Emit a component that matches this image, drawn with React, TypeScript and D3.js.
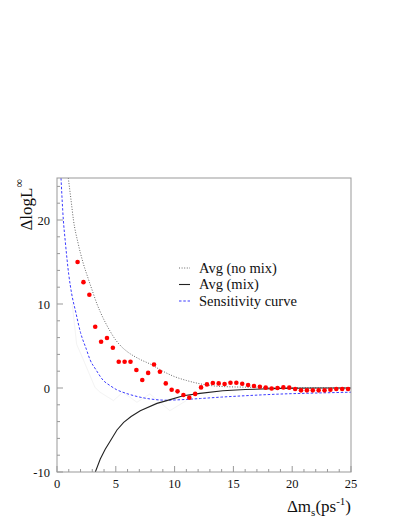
import React from "react";
import * as d3 from "d3";

const dotX = [1.75, 2.25, 2.75, 3.25, 3.75, 4.25, 4.75, 5.25, 5.75, 6.25, 6.75, 7.25, 7.75, 8.25, 8.75, 9.25, 9.75, 10.25, 10.75, 11.25, 11.75, 12.25, 12.75, 13.25, 13.75, 14.25, 14.75, 15.25, 15.75, 16.25, 16.75, 17.25, 17.75, 18.25, 18.75, 19.25, 19.75, 20.25, 20.75, 21.25, 21.75, 22.25, 22.75, 23.25, 23.75, 24.25, 24.75];
const dotY = [15.0, 12.6, 11.1, 7.3, 5.5, 5.95, 4.8, 3.13, 3.13, 3.13, 2.14, 0.95, 1.8, 2.8, 1.94, 0.55, -0.2, -0.4, -0.83, -1.15, -0.7, 0.07, 0.43, 0.6, 0.55, 0.47, 0.63, 0.63, 0.51, 0.35, 0.24, 0.15, 0.04, -0.06, 0, 0.07, 0.04, -0.12, -0.28, -0.28, -0.28, -0.28, -0.28, -0.2, -0.12, -0.12, -0.12];

const noMixX = [0.96, 1.2, 1.4, 1.8, 2.2, 2.66, 3.0, 3.4, 3.7, 4.5, 5.0, 5.5, 6.0, 7.0, 8.0, 9.0, 10.0, 11.0, 12.0, 13.0, 14.0, 16.0, 18.0, 20.0, 25.0];
const noMixY = [25, 22.3, 20, 17.2, 15.0, 13.0, 11.6, 10.0, 9.0, 6.8, 5.7, 4.9, 4.3, 3.45, 2.8, 2.0, 1.35, 0.9, 0.55, 0.3, 0.18, 0.1, 0.06, 0.03, 0];

const mixX = [3.26, 3.68, 4.1, 4.53, 5.1, 5.67, 6.3, 7.08, 8.5, 9.33, 10.74, 12.16, 14.1, 16, 19, 22, 25];
const mixY = [-10, -8.45, -7.3, -6.3, -5.0, -4.1, -3.4, -2.7, -1.83, -1.5, -0.92, -0.64, -0.32, -0.18, -0.05, 0, 0];

const sensX = [0.34, 0.54, 0.7, 1.0, 1.25, 1.6, 2.0, 2.5, 2.8, 3.3, 3.94, 4.5, 5.07, 5.8, 6.5, 7.9, 9.3, 10.7, 12.2, 14, 16, 19, 22, 25];
const sensY = [25, 20, 17.5, 13.5, 11.2, 9.0, 6.6, 4.6, 3.4, 2.2, 0.9, 0.3, -0.2, -0.6, -0.9, -1.3, -1.45, -1.38, -1.25, -1.08, -0.92, -0.72, -0.6, -0.5];

const faintX = [1.3, 1.67, 2.2, 3.23, 3.66, 4.8, 5.6, 6.8, 7.9, 9.6, 11];
const faintY = [10, 5.2, 3.5, 0.07, -0.5, -1.5, -0.5, -1.7, -0.7, -2.7, -1.5];

const xTicks = [0, 5, 10, 15, 20, 25];
const yTicks = [-10, 0, 10, 20];
const legendLabels = ["Avg (no mix)", "Avg (mix)", "Sensitivity curve"];

const W = 409;
const H = 529;
const left = 57, right = 351, top = 178, bottom = 472;
const FONT = '"Liberation Serif", "DejaVu Serif", serif';

export default function App() {
  const x = d3.scaleLinear().domain([0, 25]).range([left, right]);
  const y = d3.scaleLinear().domain([-10, 25]).range([bottom, top]);

  const mk = (xs: number[], ys: number[], curve: any) =>
    d3.line<number>().x((_, i) => x(xs[i])).y((_, i) => y(ys[i])).curve(curve)(xs.map((_, i) => i)) || "";

  const xMinor = d3.range(0, 26, 1);
  const yMinor = d3.range(-10, 26, 2);

  const legendY = [268, 284.5, 301];
  const ts = { fontFamily: FONT };

  return (
    <svg width={W} height={H} style={{ position: "absolute", left: 0, top: 0, background: "#fff", fontFamily: FONT }}>
      <defs>
        <clipPath id="plot">
          <rect x={left} y={top} width={right - left} height={bottom - top} />
        </clipPath>
      </defs>
      <rect x={0} y={0} width={W} height={H} fill="#fff" />
      <g clipPath="url(#plot)">
        <path d={mk(faintX, faintY, d3.curveLinear)} fill="none" stroke="#f4f4f4" strokeWidth={1} />
        <path d={mk(noMixX, noMixY, d3.curveMonotoneX)} fill="none" stroke="#666" strokeWidth={1} strokeDasharray="1,1.6" />
        <path d={mk(sensX, sensY, d3.curveMonotoneX)} fill="none" stroke="#3b3bff" strokeWidth={1} strokeDasharray="2.5,1.8" />
        <path d={mk(mixX, mixY, d3.curveLinear)} fill="none" stroke="#222" strokeWidth={1.1} />
        {dotX.map((d, i) => (
          <circle key={i} cx={x(d)} cy={y(dotY[i])} r={2.3} fill="#ff0000" />
        ))}
      </g>
      <rect x={left} y={top} width={right - left} height={bottom - top} fill="none" stroke="#999" strokeWidth={1} />
      {xMinor.map((t) => (
        <line key={"xm" + t} x1={x(t)} x2={x(t)} y1={bottom} y2={bottom - (t % 5 === 0 ? 6 : 3)} stroke="#999" />
      ))}
      {yMinor.map((t) => (
        <line key={"ym" + t} x1={left} x2={left + (t % 10 === 0 ? 6 : 3)} y1={y(t)} y2={y(t)} stroke="#999" />
      ))}
      {xTicks.map((t) => (
        <text key={"xt" + t} style={ts} x={x(t)} y={488} fontSize={12.5} textAnchor="middle" fill="#111">{t}</text>
      ))}
      {yTicks.map((t) => (
        <text key={"yt" + t} style={ts} x={50} y={y(t) + 4.5} fontSize={12.5} textAnchor="end" fill="#111">{t}</text>
      ))}
      <text style={ts} x={351} y={512} fontSize={17} textAnchor="end" fill="#111">
        Δm<tspan fontSize={11} dy={4}>s</tspan><tspan dy={-4}>(ps</tspan><tspan fontSize={11} dy={-7}>-1</tspan><tspan dy={7}>)</tspan>
      </text>
      <text style={ts} transform="translate(32,179) rotate(-90)" fontSize={17} textAnchor="end" fill="#111">
        ΔlogL<tspan fontSize={12} dy={-9}>∞</tspan>
      </text>
      <line x1={179} x2={190} y1={legendY[0]} y2={legendY[0]} stroke="#666" strokeDasharray="1,1.6" />
      <line x1={179} x2={190} y1={legendY[1]} y2={legendY[1]} stroke="#222" strokeWidth={1.1} />
      <line x1={179} x2={190} y1={legendY[2]} y2={legendY[2]} stroke="#3b3bff" strokeDasharray="2.5,1.8" />
      {legendLabels.map((l, i) => (
        <text key={l} style={ts} x={199} y={legendY[i] + 4.5} fontSize={14.5} fill="#111">{l}</text>
      ))}
    </svg>
  );
}
